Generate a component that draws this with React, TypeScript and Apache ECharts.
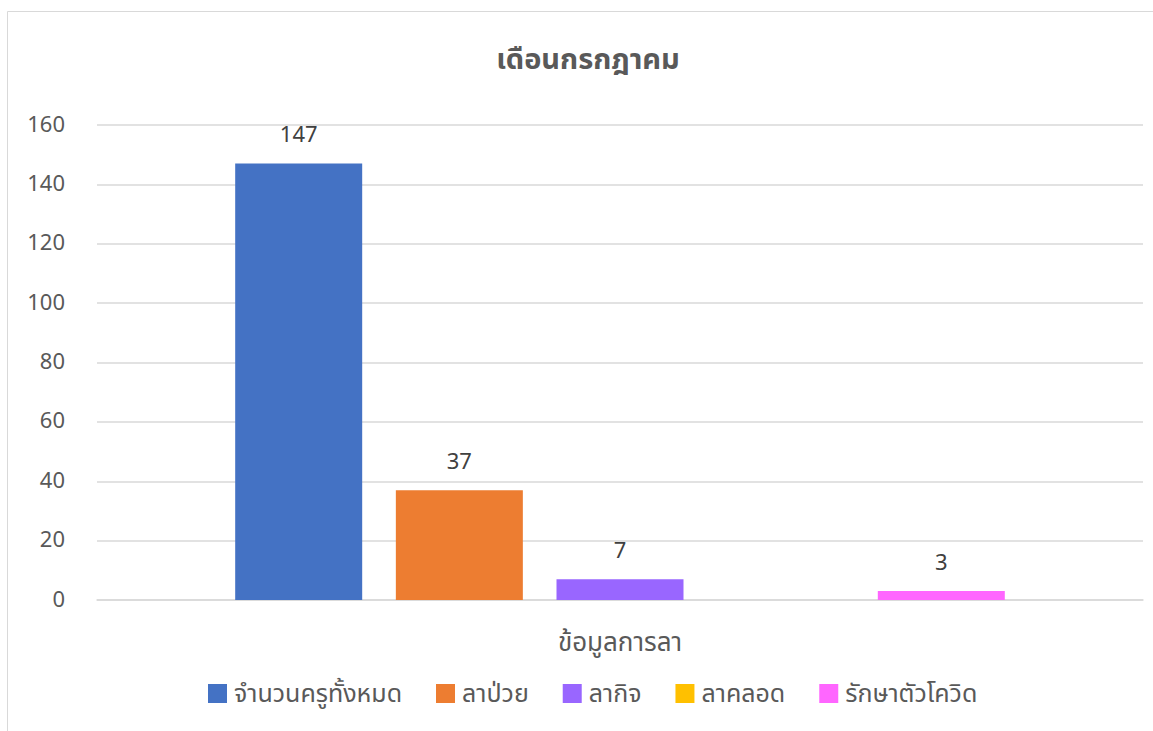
import React, { useEffect, useRef } from "react";
import * as echarts from "echarts";

const title = "เดือนกรกฎาคม";
const categories = ["ข้อมูลการลา"];
const seriesNames = ["จำนวนครูทั้งหมด", "ลาป่วย", "ลากิจ", "ลาคลอด", "รักษาตัวโควิด"];
const seriesValues = [147, 37, 7, 0, 3];
const seriesColors = ["#4472C4", "#ED7D31", "#9966FF", "#FFC000", "#FF66FF"];
const yTicks = { min: 0, max: 160, interval: 20 };

const FONT = "'Noto Sans Thai', 'Leelawadee UI', Tahoma, 'Noto Sans', sans-serif";

export default function App() {
  const ref = useRef<HTMLDivElement>(null);
  useEffect(() => {
    if (!ref.current) return;
    const chart = echarts.init(ref.current, null, { renderer: "svg" });
    chart.setOption({
      animation: false,
      backgroundColor: "#ffffff",
      textStyle: { fontFamily: FONT },
      title: {
        text: title,
        left: 583,
        textAlign: "center",
        top: 40,
        textStyle: { fontFamily: FONT, fontSize: 29, fontWeight: "bold", color: "#595959" },
      },
      graphic: [
        {
          type: "rect",
          shape: { x: 7.5, y: 11.5, width: 1170, height: 740 },
          style: { fill: "none", stroke: "#d9d9d9", lineWidth: 1 },
          silent: true,
          z: -1,
        },
      ],
      legend: {
        bottom: 20,
        left: 203,
        itemWidth: 19,
        itemHeight: 19,
        itemGap: 34,
        icon: "rect",
        textStyle: { fontFamily: FONT, fontSize: 25, color: "#595959", padding: [0, 0, 0, 2] },
        data: seriesNames,
      },
      grid: { left: 97, right: 10, top: 125, bottom: 131 },
      xAxis: {
        type: "category",
        data: categories,
        axisLine: { show: true, lineStyle: { color: "#d9d9d9", width: 1.5 } },
        axisTick: { show: false },
        axisLabel: { fontFamily: FONT, fontSize: 26, color: "#595959", margin: 30 },
      },
      yAxis: {
        type: "value",
        min: yTicks.min,
        max: yTicks.max,
        interval: yTicks.interval,
        axisLine: { show: false },
        axisTick: { show: false },
        splitLine: { lineStyle: { color: "#d9d9d9", width: 1.5 } },
        axisLabel: { fontFamily: FONT, fontSize: 22, color: "#595959", margin: 32 },
      },
      series: seriesNames.map((name, i) => ({
        name,
        type: "bar",
        data: [seriesValues[i]],
        barWidth: 127,
        barGap: "26.5%",
        itemStyle: { color: seriesColors[i] },
        label: {
          show: true,
          position: "top",
          distance: 17,
          fontFamily: FONT,
          fontSize: 22,
          color: "#404040",
          formatter: (p: any) => (p.value === 0 ? "" : String(p.value)),
        },
      })),
    });
    return () => chart.dispose();
  }, []);
  return <div ref={ref} style={{ width: 1153, height: 731, position: "absolute", left: 0, top: 0 }} />;
}
